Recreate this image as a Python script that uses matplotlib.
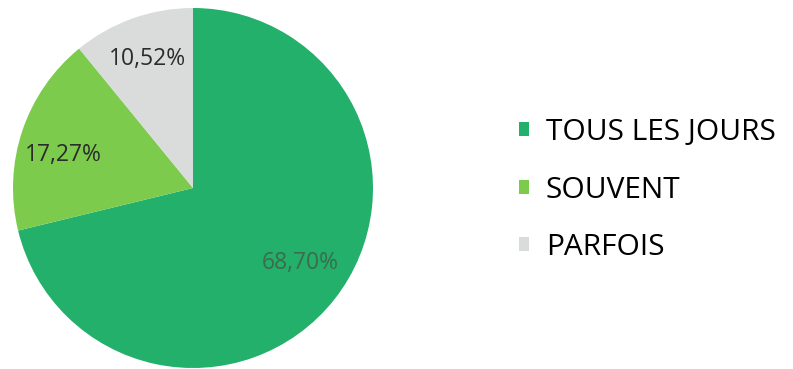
import matplotlib.pyplot as plt

categories = ["TOUS LES JOURS", "SOUVENT", "PARFOIS"]
values = [68.70, 17.27, 10.52]
colors = ["#22B06B", "#7CCB4C", "#D9DCDB"]

total = sum(values)

fig = plt.figure(figsize=(7.93, 3.69), dpi=100)
ax = fig.add_axes([13 / 793, 1 / 369, 360 / 793, 360 / 369])

wedges, texts, autotexts = ax.pie(
    values,
    colors=colors,
    startangle=90,
    counterclock=False,
    autopct=lambda p: "{:.2f}%".format(p * total / 100).replace(".", ","),
    pctdistance=0.76,
    textprops={"family": ["Open Sans", "DejaVu Sans"], "fontsize": 16.5, "color": "#2b2b2b"},
)
autotexts[0].set_color("#3d6b50")
# small nudges so the labels sit where they do in the original
x, y = autotexts[0].get_position()
autotexts[0].set_position((x, y + 0.055))
x, y = autotexts[1].get_position()
autotexts[1].set_position((x, y - 0.06))
ax.set_xlim(-1, 1)
ax.set_ylim(-1, 1)
ax.set_aspect("equal")

fig.legend(
    wedges,
    categories,
    loc="center left",
    bbox_to_anchor=(492 / 793, 179 / 369),
    frameon=False,
    prop={"family": ["Open Sans", "DejaVu Sans"], "size": 21.5},
    handlelength=0.35,
    handleheight=0.35,
    handletextpad=0.55,
    labelspacing=0.95,
)

fig.savefig("out.png", dpi=100)
